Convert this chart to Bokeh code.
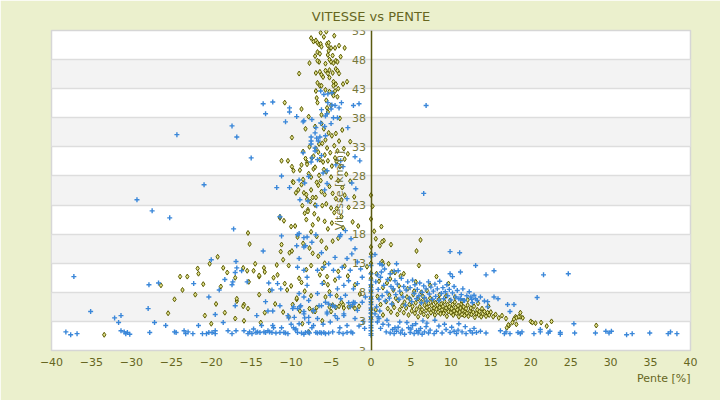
from bokeh.plotting import figure
from bokeh.models import Range1d, FixedTicker, Title, ColumnDataSource
from bokeh.embed import file_html
from bokeh.resources import INLINE

TITLE = "VITESSE vs PENTE"
X_LABEL = "Pente [%]"
Y_LABEL = "Vitesse [km/h]"
x_ticks = [-40, -35, -30, -25, -20, -15, -10, -5, 0, 5, 10, 15, 20, 25, 30, 35, 40]
y_ticks = [-2, 3, 8, 13, 18, 23, 28, 33, 38, 43, 48, 53]
y_tick_labels = ["3", "3", "8", "13", "18", "23", "28", "33", "38", "43", "48", "53"]

# ---- blue series (slope %, speed km/h) ----
blue_bottom_left = [(-44.9,1.4),(-40.6,1.2),(-40.4,0.9),(-38.2,1.2),(-37.6,0.7),(-36.8,0.9),(-37.2,10.7),(-35.1,4.7),(-32.1,3.6),(-31.3,4.0),(-31.6,2.8),(-31.3,1.4),(-30.9,1.2),(-30.7,0.9),(-30.2,0.8),(-30.5,1.1),(-27.9,5.2),(-27.7,1.1),(-27.1,2.8),(-25.7,2.3),(-24.6,1.2),(-24.4,1.1),(-23.4,1.4),(-23.2,0.9),(-22.9,1.2),(-22.3,0.9),(-21.6,2.3),(-21.1,0.9),(-20.6,0.9),(-20.3,1.1),(-19.9,1.1),(-19.5,1.4),(-19.5,0.9),(-19.5,4.2),(-18.5,2.8),(-17.9,1.4),(-17.4,0.9),(-16.9,1.4),(-17.0,5.7),(-15.9,1.4),(-15.4,0.9),(-15.2,1.2),(-14.9,0.9),(-14.7,1.7),(-14.4,1.1),(-14.2,1.2),(-13.9,1.1),(-14.3,4.0),(-13.7,2.3),(-13.2,6.4),(-13.4,1.2),(-13.2,1.1),(-12.9,1.4),(-12.7,1.2),(-12.9,4.8),(-12.3,4.8),(-12.3,2.3),(-12.2,1.9),(-12.4,1.1),(-11.9,1.0),(-11.4,1.1),(-10.9,1.1),(-10.7,1.0),(-10.4,0.9),(-11.4,5.7),(-11.2,1.9),(-10.4,4.0),(-10.3,3.6),(-9.8,5.2),(-9.7,5.5),(-9.7,1.9),(-9.4,1.7),(-9.5,1.6),(-8.9,5.5),(-8.8,5.7),(-8.4,4.7),(-8.3,3.6),(-9.2,1.1),(-8.7,1.0),(-8.4,0.8),(-8.2,1.1),(-7.9,1.2),(-7.7,1.0),(-7.2,4.8),(-7.2,2.3),(-7.4,1.9),(-6.9,1.1),(-6.7,1.0),(-6.4,1.1),(-6.2,1.0),(-5.9,1.1),(-5.7,0.9),(-6.2,5.7),(-5.5,4.3),(-5.3,6.0),(-4.8,5.7),(-4.5,4.0),(-3.4,4.0),(-3.0,2.3),(-3.9,1.9),(-5.3,1.0),(-4.8,1.2),(-4.0,1.1),(-3.5,0.9),(-3.0,1.1),(-2.5,1.2),(-2.3,1.0),(-2.8,6.2),(-2.3,5.9),(-2.0,6.2)]
blue_left_mid = [(-17.4,36.6),(-16.8,34.7),(-24.3,35.1),(-15.0,31.1),(-20.9,26.5),(-29.3,23.9),(-27.4,22.0),(-25.2,20.8),(-17.2,18.9),(-27.8,9.3),(-26.6,9.6),(-22.2,9.5),(-20.0,13.6),(-16.9,13.3),(-16.8,12.2),(-16.2,11.7),(-17.0,11.4),(-18.3,10.2),(-17.3,9.8),(-17.4,9.3),(-15.5,9.8),(-19.0,8.4),(-13.5,15.1),(-20.3,7.2),(-12.4,8.4),(-12.8,9.6),(-11.7,9.5),(-11.3,8.6)]
blue_column = [(-6.3,42.6),(-5.9,42.0),(-5.4,42.1),(-4.9,42.3),(-13.5,40.4),(-12.3,40.7),(-10.2,39.7),(-10.2,39.0),(-13.2,38.7),(-10.7,37.3),(-9.3,38.2),(-8.5,37.3),(-8.4,37.5),(-7.4,37.7),(-6.2,39.4),(-5.4,40.6),(-4.9,40.2),(-4.5,40.1),(-4.0,39.7),(-5.0,39.5),(-5.5,38.7),(-5.7,38.3),(-4.7,38.0),(-4.2,38.0),(-3.7,40.6),(-2.2,40.1),(-1.5,40.4),(-2.9,36.3),(6.9,40.1),(-7.0,35.4),(-7.5,34.7),(-6.8,34.5),(-6.4,34.7),(-5.7,34.9),(-7.5,33.5),(-6.6,34.0),(-7.0,32.3),(-6.2,31.5),(-6.7,30.8),(-7.5,30.4),(-5.5,28.9),(-4.4,29.9),(-3.5,29.6),(-3.8,30.6),(-2.0,31.3),(-1.4,30.6),(-11.2,28.0),(-9.0,27.3),(-7.8,27.9),(-6.9,36.3),(-6.3,37.1),(-5.0,37.0),(-5.8,36.5),(-7.5,34.0),(-7.0,32.8),(-7.4,31.1),(-8.5,32.0),(-6.0,28.5),(-11.8,26.0),(-10.2,26.0),(-8.3,26.8),(-5.5,26.7),(-5.8,25.6),(-8.9,23.9),(-7.9,23.7),(-6.8,22.9),(-2.4,26.8),(-1.9,25.8),(-3.0,24.1),(-11.4,21.0),(-11.2,17.7),(-9.2,17.9),(-8.4,17.4),(-8.0,17.5),(-6.9,17.9),(-9.3,16.0),(-8.2,16.0),(-3.9,17.6),(-3.8,17.9),(-2.5,17.2),(-3.2,18.6)]
blue_column_low = [(-9.0,18.1),(-7.4,16.6),(-8.4,15.8),(-9.0,13.8),(-9.2,12.3),(-8.4,11.8),(-8.0,10.6),(-8.0,9.2),(-9.0,7.8),(-8.4,7.2),(-7.8,6.6),(-6.7,7.8),(-6.1,9.5),(-6.7,11.8),(-5.9,12.3),(-5.3,12.9),(-4.7,11.8),(-4.0,10.6),(-3.6,12.3),(-3.0,13.8),(-2.4,14.6),(-1.7,13.2),(-2.6,11.8),(-2.8,10.0),(-3.4,9.2),(-4.2,8.6),(-5.1,7.5),(-5.7,6.3),(-6.5,5.7),(-7.2,4.9),(-7.8,3.7),(-8.4,4.3),(-9.2,5.2),(-9.6,3.7),(-6.7,3.5),(-5.5,4.6),(-4.5,5.5),(-3.8,6.9),(-3.2,7.5),(-2.2,8.6),(-1.7,9.5),(-1.1,10.6),(-2.2,6.3),(-2.6,5.5),(-3.4,4.3),(-4.2,3.5),(-5.1,2.9),(-1.7,4.9),(-1.1,6.3),(-0.7,7.2),(-1.3,12.0),(-2.0,15.5),(-4.5,14.0),(-6.2,14.8),(-1.0,3.0),(-0.8,1.8),(-1.5,2.2),(-2.0,3.5),(-6.0,2.5),(-7.8,2.8),(-9.0,2.6),(-10.0,2.5)]
blue_axis = [(0,0.6),(0,0.9),(0,1.4),(0,1.9),(0,2.3),(0,2.9),(0,3.3),(0,3.8),(0,4.4),(0,4.9),(0,5.3),(0,5.9),(0,6.4),(0,6.8),(0,7.3),(0,7.9),(0,8.4),(0,8.8),(0,9.3),(0,10.1),(0,11.2),(0,12.6),(0,14.1)]
blue_bottom_right = [(1.9,1.2),(2.2,2.4),(2.4,1.0),(2.7,1.6),(2.9,0.9),(3.2,1.3),(3.4,2.0),(3.7,1.0),(3.9,1.5),(4.2,0.8),(4.7,1.9),(4.9,1.1),(5.2,2.3),(5.4,0.9),(5.7,1.4),(5.9,1.0),(6.2,1.8),(6.4,0.8),(6.7,1.2),(6.9,2.1),(7.2,1.0),(7.4,1.5),(7.9,0.9),(8.2,1.3),(8.9,1.0),(9.4,1.6),(9.9,1.1),(10.4,1.3),(10.7,0.9),(10.9,1.5),(11.4,1.2),(11.9,0.9),(12.4,1.4),(12.7,1.0),(12.9,1.8),(13.2,1.1),(13.7,1.3),(14.4,1.0),(16.2,1.4),(16.7,0.9),(16.9,1.2),(17.4,0.9),(18.4,1.1),(18.7,0.9),(18.9,1.2),(20.4,0.9),(21.2,1.2),(21.2,1.6),(22.2,1.0),(22.4,1.3),(23.7,1.1),(23.7,0.8),(25.5,1.0),(25.4,2.6),(28.1,1.0),(29.4,1.3),(29.8,1.0),(30.1,1.3),(32.0,0.7),(32.7,0.9),(34.9,1.0),(37.2,0.9),(37.5,1.2),(38.3,0.9),(1.2,1.8),(1.5,2.5),(3.0,1.9),(4.5,2.8),(5.0,1.7),(5.6,2.6),(6.0,1.4),(7.0,2.7),(8.5,2.2),(9.2,2.5),(10.1,2.0),(11.0,2.6),(11.8,2.1),(0.8,2.9),(1.0,3.5),(2.0,3.2),(3.6,2.9),(6.5,3.1),(8.0,3.2)]
blue_right_cluster = [(0.6,9.8),(0.9,8.5),(1.2,10.6),(1.4,7.4),(1.6,9.2),(1.8,6.5),(2.0,8.0),(2.1,10.2),(2.3,7.0),(2.5,9.0),(2.6,6.0),(2.8,8.6),(3.0,10.0),(3.1,7.6),(3.3,9.4),(3.5,6.8),(3.6,8.2),(3.8,10.4),(4.0,7.2),(4.1,9.0),(4.3,5.8),(4.4,8.4),(4.6,9.8),(4.8,7.0),(4.9,8.8),(5.1,6.4),(5.2,10.1),(5.4,7.8),(5.5,9.3),(5.7,6.9),(5.8,8.5),(6.0,7.4),(6.1,9.6),(6.3,6.2),(6.4,8.0),(6.6,9.1),(6.7,7.1),(6.9,8.6),(7.0,6.5),(7.2,9.8),(7.3,7.7),(7.5,8.9),(7.7,6.8),(7.8,8.2),(8.0,9.4),(8.1,7.3),(8.3,8.6),(8.5,6.6),(8.6,9.9),(8.8,7.8),(9.0,8.8),(9.1,6.9),(9.3,8.1),(9.5,9.3),(9.6,7.4),(9.8,8.5),(10.0,6.7),(10.2,7.9),(10.4,9.0),(10.6,7.2),(10.8,8.3),(11.0,6.9),(11.3,7.6),(11.5,8.6),(11.7,6.6),(12.0,7.4),(12.3,8.1),(12.6,6.8),(12.9,7.5),(13.3,6.6),(13.7,7.2),(14.2,6.5),(11.2,6.9),(11.6,6.6),(12.7,6.2),(13.1,6.9),(12.5,7.2),(15.9,6.9),(15.4,7.2),(14.6,5.5),(14.6,6.4),(17.4,4.7),(17.9,5.9),(17.1,5.9),(20.8,7.1),(0.7,5.5),(1.0,6.8),(1.3,11.5),(0.8,11.0),(1.7,12.0),(2.4,11.2),(2.9,11.6),(0.5,4.3),(1.1,4.8),(0.9,3.8)]
blue_right_sparse = [(9.9,15.0),(11.1,14.8),(13.1,12.6),(14.4,11.0),(15.4,11.7),(21.6,11.0),(24.7,11.2),(9.9,11.2),(10.2,10.7),(11.2,11.5),(3.2,12.9),(3.4,11.7),(0.5,14.5),(1.4,12.7),(1.1,12.9),(6.6,25.0)]

# ---- olive series ----
olive_column_top = [(-6.3,52.6),(-5.6,52.8),(-7.5,51.7),(-7.2,51.1),(-6.9,51.3),(-6.7,50.9),(-6.5,50.6),(-6.3,50.7),(-6.2,50.2),(-5.5,50.7),(-5.4,50.4),(-5.3,50.9),(-5.0,50.0),(-4.5,50.0),(-4.0,50.4),(-3.3,50.0),(-6.7,49.3),(-6.4,49.0),(-5.3,49.5),(-5.4,48.8),(-4.8,48.7),(-5.2,48.0),(-7.7,47.4),(-6.5,47.6),(-6.7,47.8),(-5.7,47.3),(-5.0,47.6),(-4.7,47.4),(-4.4,47.8),(-4.2,47.6),(-9.0,45.6),(-6.9,45.7),(-6.4,45.9),(-6.2,45.4),(-5.7,46.1),(-5.4,45.6),(-5.2,46.2),(-4.8,45.7),(-4.4,46.4),(-4.2,46.1),(-4.0,45.6),(-6.7,44.0),(-6.4,43.5),(-6.2,43.5),(-4.7,44.2),(-4.4,43.8),(-4.7,43.5),(-3.5,43.8),(-3.0,44.2),(-6.9,42.6),(-5.7,42.8),(-5.2,42.5),(-4.8,42.1),(-4.7,41.8),(-4.2,41.6),(-4.5,42.6),(-10.8,40.6),(-8.7,39.5),(-6.7,40.6),(-5.5,39.7),(-5.0,40.1),(-5.4,39.0),(-6.2,38.5),(-8.2,36.1),(-6.2,37.0),(-5.9,36.1),(-5.3,35.4),(-4.9,34.9),(-4.4,35.3),(-5.7,34.2),(-6.5,33.5),(-9.9,34.6),(-8.5,32.2),(-7.7,33.0),(-6.9,32.7),(-5.5,32.8),(-4.2,32.3),(-3.4,32.7),(-2.9,31.8),(-7.4,31.1),(-6.4,30.8),(-4.5,31.1),(-11.2,30.6),(-10.4,30.6),(-9.9,29.6),(-9.7,28.9),(-8.7,29.9),(-8.0,30.3),(-7.2,29.2),(-5.9,29.1),(-4.9,29.7),(-3.9,29.6),(-9.8,27.0),(-9.4,25.1),(-10.9,20.3),(-11.4,20.8),(-10.0,19.3),(-9.5,19.4)]
olive_column_mid = [(-8.4,25.1),(-8.0,24.0),(-7.6,23.6),(-7.9,22.2),(-7.1,21.5),(-8.6,22.9),(-7.5,25.6),(-6.8,26.9),(-7.5,27.8),(-6.5,28.1),(-7.0,29.5),(-6.0,30.4),(-5.4,30.6),(-5.8,31.6),(-4.6,33.2),(-6.6,32.1),(-5.1,32.0),(-6.1,33.6),(-7.2,31.4),(-8.0,30.0),(-8.9,29.0),(-8.5,27.4),(-7.8,28.4),(-8.2,31.0),(-9.7,26.9),(-9.1,25.6),(-8.7,26.5),(-8.1,24.8),(-7.3,24.3),(-7.0,23.0),(-7.9,21.9),(-8.3,21.6),(-6.6,26.4),(-6.2,25.3),(-5.8,24.8),(-5.6,23.2),(-5.0,22.5),(-6.6,20.6),(-5.8,20.2),(-5.4,18.9),(-4.6,21.7),(-4.3,22.4),(-3.7,23.9),(-3.3,24.7),(-5.2,26.2),(-7.3,19.6),(-8.1,20.5),(-7.5,18.4),(-6.8,17.6),(-6.2,16.8),(-5.6,15.6),(-4.8,16.8),(-4.1,17.3),(-3.5,19.1),(-4.1,27.2),(-3.6,26.0),(-4.8,25.0),(-5.0,27.8),(-4.4,24.1),(-3.1,28.3),(-2.6,27.1),(-3.7,21.0),(-2.8,22.6),(-2.3,20.1),(-1.6,19.4),(-2.1,24.4),(-4.9,19.9),(-6.1,22.9),(-6.9,24.3),(-5.6,28.7),(-6.3,27.2),(-4.3,30.5),(-3.3,30.9),(-4.0,34.0),(-3.6,35.9),(-7.0,36.5),(-7.8,38.2),(-6.8,41.4),(-3.9,37.9),(-2.6,33.9),(-5.2,44.9),(-3.8,48.5),(-7.0,48.6),(-5.9,51.9),(-4.6,52.1),(-6.0,45.0),(-5.6,41.0),(-4.1,43.0)]
olive_left = [(-15.4,18.2),(-15.2,16.3),(-19.2,14.1),(-20.2,12.9),(-14.5,12.9),(-21.7,12.1),(-18.5,12.2),(-16.0,12.2),(-18.0,11.4),(-14.7,11.7),(-21.6,11.2),(-14.0,10.7),(-23.9,10.7),(-23.0,10.7),(-17.0,10.5),(-15.3,9.8),(-18.8,9.0),(-23.6,8.4),(-33.4,0.7),(-20.8,4.0),(-19.4,6.0),(-18.3,4.5),(-17.0,3.5),(-16.8,6.5),(-15.9,5.9),(-15.4,5.2),(-15.9,3.1),(-13.3,4.5),(-10.3,3.8),(-7.7,5.2),(-7.3,4.8),(-7.0,4.7),(-5.2,5.5),(-4.8,5.8),(-4.4,5.4),(-4.0,5.6),(-3.5,5.9),(-3.4,5.3),(-2.8,5.5),(-2.3,5.7),(-2.0,5.2),(-1.5,5.6),(-7.8,1.2),(-11.4,21.0),(-11.2,16.2),(-11.3,15.0),(-10.2,14.8),(-9.9,15.1),(-11.0,13.6),(-11.8,12.7),(-10.3,12.6),(-11.7,11.0),(-12.2,10.5),(-10.8,9.5),(-10.0,9.1),(-10.5,8.4),(-14.0,7.6),(-13.4,12.2),(-13.3,11.5),(-14.0,10.9),(-15.5,11.7),(-16.8,6.9),(-16.0,5.6),(-26.3,9.2),(-22.0,7.6),(-21.0,9.4),(-24.6,6.8),(-25.4,4.4),(-20.0,2.6),(-12.0,6.0),(-12.7,8.3),(-13.8,2.8),(-11.0,4.6),(-9.3,6.8),(-8.6,2.6),(-6.1,3.1),(-5.7,7.2)]
olive_center = [(-9.2,17.5),(-8.5,16.4),(-7.7,15.6),(-7.3,14.7),(-6.6,14.2),(-5.8,13.0),(-9.0,10.4),(-8.7,9.7),(-8.1,11.9),(-7.5,12.6),(-6.4,11.0),(-5.9,9.7),(-5.4,9.3),(-5.2,8.1),(-4.3,7.4),(-3.7,6.3),(-5.0,4.7),(-6.8,5.4),(-7.5,7.4),(-8.3,8.2),(-9.3,7.0),(-9.8,5.9),(-8.9,4.8),(-6.1,12.1),(-5.5,10.7),(-4.5,10.1),(-4.1,11.6),(-3.3,12.5),(-2.9,10.8),(-2.0,9.3),(-1.4,7.7)]
olive_axis = [(0,3.6),(0,4.4),(0,5.1),(0,6.3),(0,7.0),(0,8.2),(0,9.1),(0,10.4),(0,11.3),(0,13.0),(0,14.6),(0,15.8),(0.0,24.7),(0.2,22.8),(0.0,20.6),(1.3,19.3),(0.4,18.5)]
olive_right_sparse = [(28.2,2.3),(22.6,3.0),(22.0,2.2),(20.0,3.0),(20.6,2.7),(18.2,2.5),(17.7,2.8),(17.3,2.3),(17.0,1.9),(18.1,3.8),(18.7,3.8),(19.0,3.6),(18.7,4.5),(18.5,3.8),(18.2,3.6),(17.9,3.4),(20.2,2.8),(21.3,2.8),(17.2,2.4),(40.6,0.7),(0.6,17.2),(1.6,16.9),(1.4,16.7),(2.5,16.2),(1.1,16.0),(6.2,17.0),(5.7,15.1),(6.0,12.6),(1.4,13.3),(1.5,12.9),(2.2,12.9),(2.6,11.5),(4.1,11.2),(8.2,10.7),(9.7,9.5),(7.4,9.2),(5.6,9.8),(-0.5,12.4)]
olive_right_band = [(1.9,6.4),(2.1,5.2),(2.3,7.5),(2.5,4.6),(2.7,6.0),(2.9,5.4),(3.1,7.0),(3.3,4.2),(3.4,6.6),(3.6,5.0),(3.8,7.8),(3.9,5.7),(4.1,4.5),(4.2,6.3),(4.4,5.3),(4.5,7.2),(4.7,4.1),(4.8,5.9),(4.9,6.8),(5.1,4.8),(5.2,5.6),(5.3,7.6),(5.5,4.4),(5.6,6.2),(5.7,5.1),(5.9,6.9),(5.9,3.8),(6.1,5.5),(6.2,4.6),(6.3,6.4),(6.4,5.0),(6.5,7.3),(6.6,4.2),(6.7,5.8),(6.8,6.7),(6.9,4.9),(7.0,5.4),(7.1,3.9),(7.2,6.1),(7.3,5.0),(7.4,7.0),(7.5,4.5),(7.6,5.7),(7.7,6.5),(7.8,4.8),(7.9,5.3),(8.0,4.1),(8.1,6.2),(8.2,5.1),(8.3,5.8),(8.4,4.6),(8.5,6.8),(8.6,5.4),(8.7,4.3),(8.8,6.0),(8.9,5.0),(9.0,5.6),(9.1,4.4),(9.2,6.4),(9.3,4.9),(9.4,5.3),(9.5,3.9),(9.6,5.9),(9.7,4.7),(9.8,5.5),(9.9,6.6),(10.0,4.5),(10.1,5.2),(10.2,5.9),(10.3,4.1),(10.4,4.8),(10.5,6.3),(10.6,5.4),(10.7,4.4),(10.8,5.0),(10.9,5.7),(11.0,3.8),(11.1,4.6),(11.2,5.3),(11.3,6.0),(11.4,4.2),(11.5,4.9),(11.6,5.5),(11.7,4.0),(11.8,4.7),(11.9,5.2),(12.0,4.4),(12.1,5.8),(12.2,3.9),(12.4,4.8),(12.5,5.3),(12.6,4.2),(12.8,4.6),(12.9,5.6),(13.0,3.7),(13.2,4.4),(13.3,5.0),(13.5,4.1),(13.6,4.7),(13.8,3.8),(13.9,5.2),(14.0,4.3),(14.2,4.7),(14.4,3.9),(14.6,4.5),(14.8,4.1),(15.0,4.6),(15.3,3.8),(15.6,4.2),(16.0,3.6),(16.4,4.0),(16.9,3.5),(1.5,8.8),(2.0,9.6),(2.8,8.4),(3.5,9.1),(4.6,8.6),(5.4,8.2),(6.3,8.0),(1.2,5.9),(1.5,4.1),(0.8,7.3),(0.6,5.0),(1.0,9.9),(0.7,11.2),(2.4,10.3),(3.0,11.4),(3.7,10.8),(7.0,8.3),(8.6,7.6),(10.5,7.2),(12.1,6.7),(13.4,6.1),(14.7,5.6),(9.4,7.4),(11.4,6.5)]

blue_pts = (blue_bottom_left + blue_left_mid + blue_column + blue_column_low + blue_axis
            + blue_bottom_right + blue_right_cluster + blue_right_sparse)
olive_pts = (olive_column_top + olive_column_mid + olive_left + olive_center + olive_axis
             + olive_right_sparse + olive_right_band)

OLIVE_TXT = "#66661e"
LABEL_TXT = "#77773a"
FONT = "DejaVu Sans"

p = figure(frame_width=639, frame_height=320, min_border_left=51, min_border_right=30,
           min_border_top=30, min_border_bottom=50,
           x_range=Range1d(-40, 40), y_range=Range1d(-2, 53),
           output_backend="svg", toolbar_location=None, tools="",
           x_axis_location="below", y_axis_location="left")

p.background_fill_color = "white"
p.border_fill_color = "#ebf0cd"
p.outline_line_color = "#d6d6d6"
p.outline_line_width = 1.5

p.title.text = TITLE
p.title.align = "center"
p.title.vertical_align = "top"
p.title.text_font = FONT
p.title.text_font_size = "13px"
p.title.text_font_style = "normal"
p.title.text_color = OLIVE_TXT

# x axis
xa = p.xaxis[0]
xa.ticker = FixedTicker(ticks=x_ticks)
xa.axis_line_color = None
xa.major_tick_line_color = None
xa.major_tick_out = 0
xa.minor_tick_line_color = None
xa.major_label_text_font = FONT
xa.major_label_text_font_size = "11px"
xa.major_label_text_color = OLIVE_TXT
xa.major_label_standoff = 7

# y axis at x = 0
ya = p.yaxis[0]
ya.fixed_location = 0
ya.ticker = FixedTicker(ticks=y_ticks)
ya.major_label_overrides = {t: s for t, s in zip(y_ticks, y_tick_labels)}
ya.axis_line_color = "#5a5a10"
ya.axis_line_width = 1.5
ya.major_tick_line_color = None
ya.major_tick_out = 0
ya.minor_tick_line_color = None
ya.major_label_text_font = FONT
ya.major_label_text_font_size = "11px"
ya.major_label_text_color = LABEL_TXT
ya.major_label_standoff = 5
ya.axis_label = Y_LABEL
ya.axis_label_text_font = FONT
ya.axis_label_text_font_size = "11px"
ya.axis_label_text_font_style = "normal"
ya.axis_label_text_color = LABEL_TXT
ya.axis_label_standoff = 4

p.xgrid.grid_line_color = None
p.ygrid.grid_line_color = "#dddddd"
p.ygrid.grid_line_width = 1.5
p.ygrid.band_fill_color = "#f3f3f3"
p.ygrid.band_fill_alpha = 1.0

p.add_layout(Title(text=X_LABEL, align="right", vertical_align="top", text_font=FONT,
                   text_font_size="11px", text_font_style="normal", text_color=OLIVE_TXT,
                   standoff=6), "below")

olive_src = ColumnDataSource(dict(x=[a for a, b in olive_pts], y=[b for a, b in olive_pts]))
blue_src = ColumnDataSource(dict(x=[a for a, b in blue_pts], y=[b for a, b in blue_pts]))

p.scatter("x", "y", source=olive_src, marker="diamond", size=5,
          fill_color="#e2e28c", line_color="#5b5b00", line_width=1)
p.scatter("x", "y", source=blue_src, marker="cross", size=5,
          line_color="#3a87d9", line_width=1.4)

html = file_html(p, INLINE)
html = html.replace("<body>", '<body style="background-color:#ebf0cd;">', 1)
open("out.html", "w").write(html)
